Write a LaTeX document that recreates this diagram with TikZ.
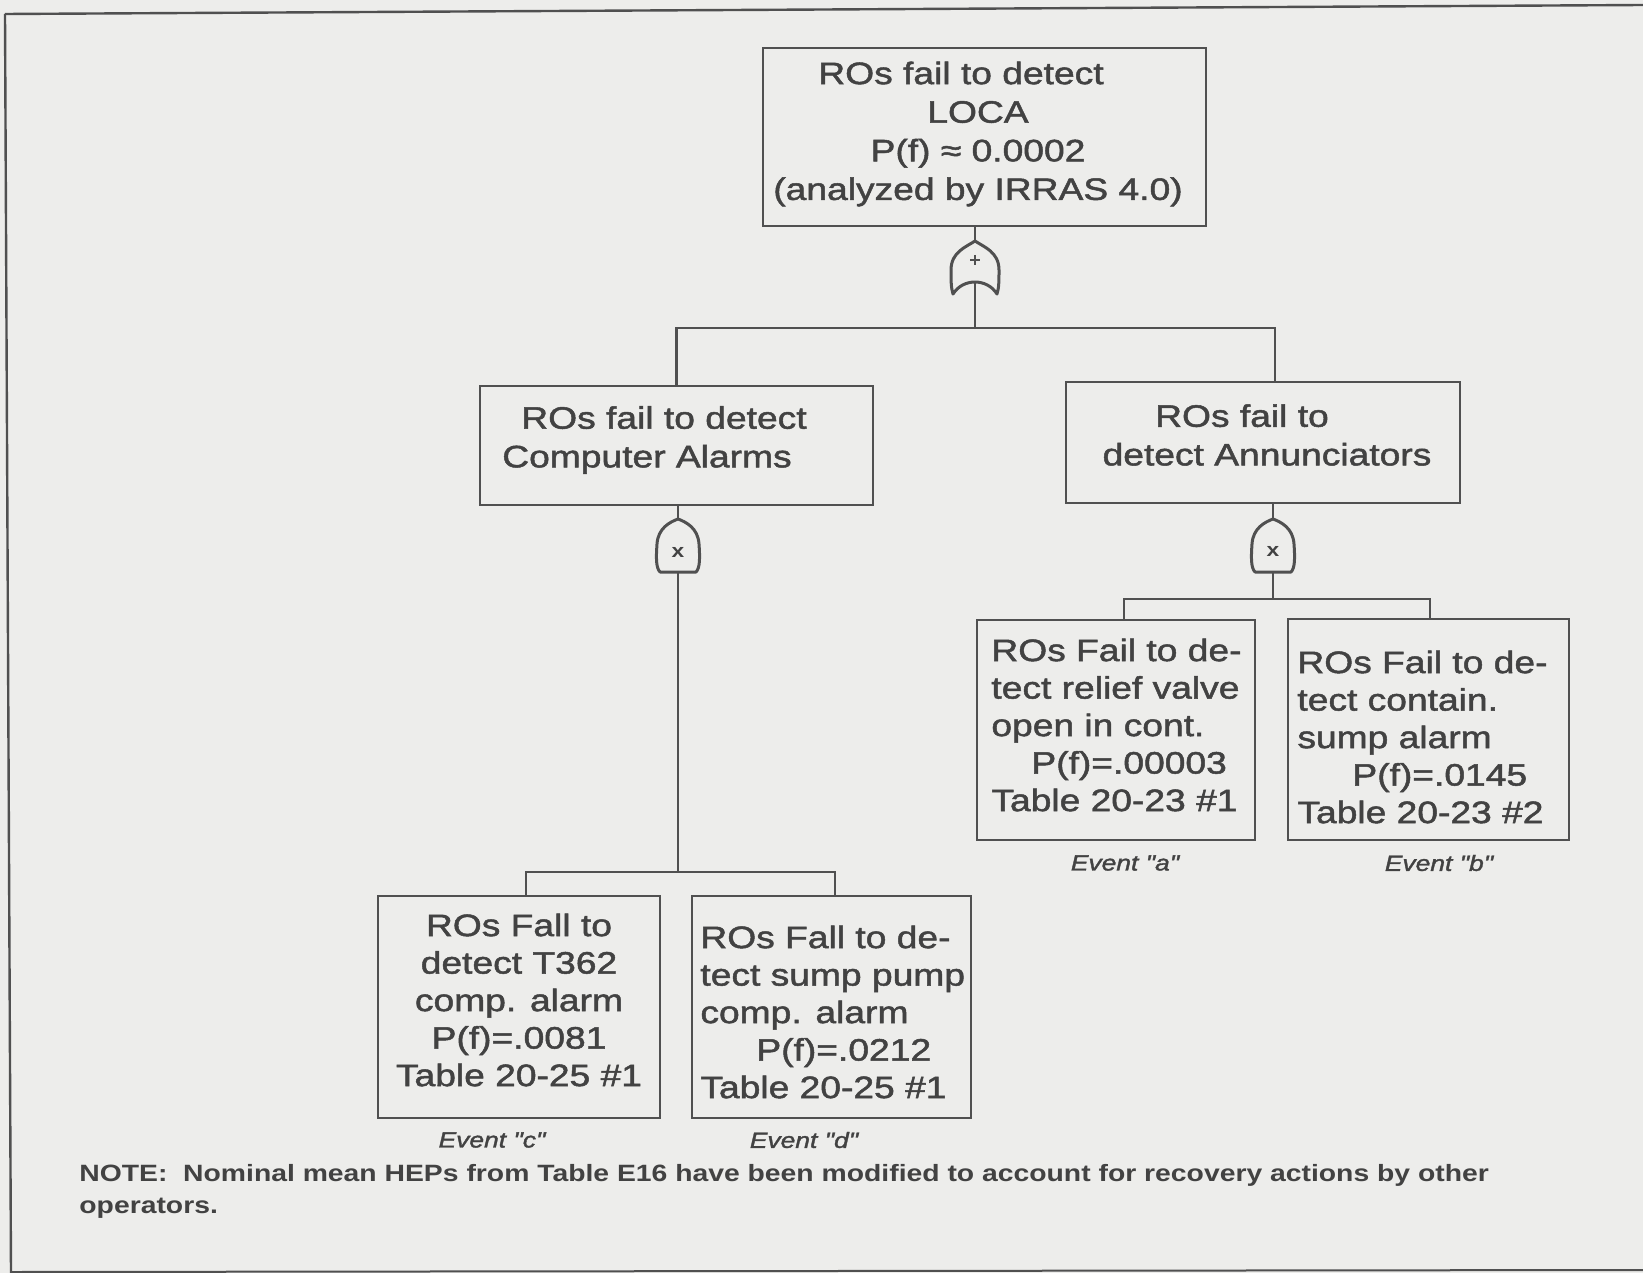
\documentclass[tikz,border=0pt]{standalone}
\usepackage{fontspec}
\setmainfont{Liberation Sans}[FakeStretch=1.2]
\newfontfamily\boxfont{Liberation Sans}[FakeStretch=1.2, FakeBold=1.6]
\usetikzlibrary{calc}
\definecolor{paper}{RGB}{237,237,235}
\definecolor{ink}{RGB}{66,66,66}
\definecolor{rule}{RGB}{80,80,80}
\tikzset{
  frame/.style={draw=rule, line width=1.3pt, inner sep=0pt},
  txt/.style={text=ink, inner sep=0pt, font=\boxfont\fontsize{15.5}{19.3}\selectfont},
  leaftxt/.style={text=ink, inner sep=0pt, font=\boxfont\fontsize{15.5}{18.75}\selectfont},
  evt/.style={text=ink, inner sep=0pt, font=\boxfont\fontsize{11}{13}\selectfont\itshape},
  wire/.style={draw=rule, line width=1.3pt},
  gate/.style={draw=rule, line width=1.5pt, line join=round},
  gatemark/.style={text=ink, inner sep=0pt, font=\fontsize{9.5}{9.5}\selectfont\bfseries},
}
\newcommand\dq{\symbol{"22}}
\begin{document}
\begin{tikzpicture}[x=0.5pt, y=-0.5pt]
\fill[paper] (0,0) rectangle (1643,1273);
\useasboundingbox (0,0) rectangle (1643,1273);

% page edges
\draw[rule, line width=1.2pt] (5,14) -- (1643,5);
\draw[rule, line width=1.2pt] (5,14) -- (11,1273);
\draw[rule, line width=1pt] (11,1272) -- (1643,1270);

% event boxes
\node[frame, minimum width=221.5pt, minimum height=89pt] (top) at (984.5,137) {};
\node[frame, minimum width=196.5pt, minimum height=59.5pt] (cal) at (676.5,445.5) {};
\node[frame, minimum width=197pt, minimum height=60.5pt] (ann) at (1263,442.5) {};
\node[frame, minimum width=139pt, minimum height=110pt] (ea) at (1116,730) {};
\node[frame, minimum width=140.5pt, minimum height=110.5pt] (eb) at (1428.5,729.5) {};
\node[frame, minimum width=141pt, minimum height=111pt] (ec) at (519,1007) {};
\node[frame, minimum width=139.5pt, minimum height=111pt] (ed) at (831.5,1007) {};

% box texts
\node[txt, align=center] (top-t) at (978,134)
  {ROs fail to detect\hspace*{17pt}\\LOCA\\P(f) ≈ 0.0002\\(analyzed by IRRAS 4.0)};
\node[txt, align=center] (cal-t) at (647,440) {\hspace*{17pt}ROs fail to detect\\Computer Alarms};
\node[txt, align=center] (ann-t) at (1267,435) {ROs fail to\hspace*{25pt}\\detect Annunciators};
\node[leaftxt, align=left, anchor=west] (ea-t) at (991,725)
  {ROs Fail to de-\\tect relief valve\\open in cont.\\\hspace*{20pt}P(f)=.00003\\Table 20-23 \#1};
\node[leaftxt, align=left, anchor=west] (eb-t) at (1297,737)
  {ROs Fail to de-\\tect contain.\\sump alarm\\\hspace*{27.5pt}P(f)=.0145\\Table 20-23 \#2};
\node[leaftxt, align=center] (ec-t) at (519,1000)
  {ROs Fall to\\detect T362\\comp. alarm\\P(f)=.0081\\Table 20-25 \#1};
\node[leaftxt, align=left, anchor=west] (ed-t) at (700,1012)
  {ROs Fall to de-\\tect sump pump\\comp. alarm\\\hspace*{28pt}P(f)=.0212\\Table 20-25 \#1};

% event labels
\node[evt] (ev-a) at (1125,863) {Event \dq a\dq};
\node[evt] (ev-b) at (1439,863) {Event \dq b\dq};
\node[evt] (ev-c) at (492,1140) {Event \dq c\dq};
\node[evt] (ev-d) at (804,1140) {Event \dq d\dq};

% OR gate under the top event
\coordinate (or0) at (975,268);
\coordinate (or0-in) at (975,241);
\coordinate (or0-out) at (975,281);
\begin{scope}[shift={(or0)}]
  \draw[gate] (0,-27) .. controls (-9,-21) and (-24,-16) .. (-24,2)
    .. controls (-24,12) and (-24,20) .. (-22,26)
    .. controls (-12,10) and (12,10) .. (22,26)
    .. controls (24,20) and (24,12) .. (24,2)
    .. controls (24,-16) and (9,-21) .. cycle;
  \draw[rule, line width=0.9pt] (-5,-8) -- (5,-8) (0,-13) -- (0,-3);
\end{scope}

% AND gates
\coordinate (and1) at (678,546);
\coordinate (and1-in) at (678,518);
\coordinate (and1-out) at (678,573);
\coordinate (and2) at (1273,546);
\coordinate (and2-in) at (1273,519);
\coordinate (and2-out) at (1273,572);
\foreach \g in {and1,and2}{
  \begin{scope}[shift={(\g)}]
    \draw[gate] (0,-27) .. controls (-8,-24) and (-20,-18) .. (-21,-2)
      .. controls (-22,12) and (-22,22) .. (-18,26) -- (18,26)
      .. controls (22,22) and (22,12) .. (21,-2)
      .. controls (20,-18) and (8,-24) .. cycle;
  \end{scope}
}
\node[gatemark] (and1-x) at (678,552) {x};
\node[gatemark] (and2-x) at (1273,551) {x};

% junctions
\coordinate (j0) at (975,328);
\coordinate (j1) at (678,872);
\coordinate (j2) at (1273,599);

% connectors
\draw[wire] (top.south -| or0-in) -- (or0-in);
\draw[wire] (or0-out) -- (j0);
\draw[wire] (cal.north) |- (j0) -| ($(ann.north)+(12,0)$);

\draw[wire] (cal.south -| and1-in) -- (and1-in);
\draw[wire] (and1-out) -- (j1);
\draw[wire] ($(ec.north)+(7,0)$) |- (j1) -| ($(ed.north)+(3.5,0)$);

\draw[wire] (ann.south -| and2-in) -- (and2-in);
\draw[wire] (and2-out) -- (j2);
\draw[wire] ($(ea.north)+(8,0)$) |- (j2) -| ($(eb.north)+(1.5,0)$);

% footnote
\node[anchor=west, align=left, text=ink, inner sep=0pt,
      font=\fontsize{11.8}{16}\selectfont\bfseries] (note) at (79,1191)
  {NOTE:\ \ Nominal mean HEPs from Table E16 have been modified to account for recovery actions by other\\operators.};
\end{tikzpicture}
\end{document}
